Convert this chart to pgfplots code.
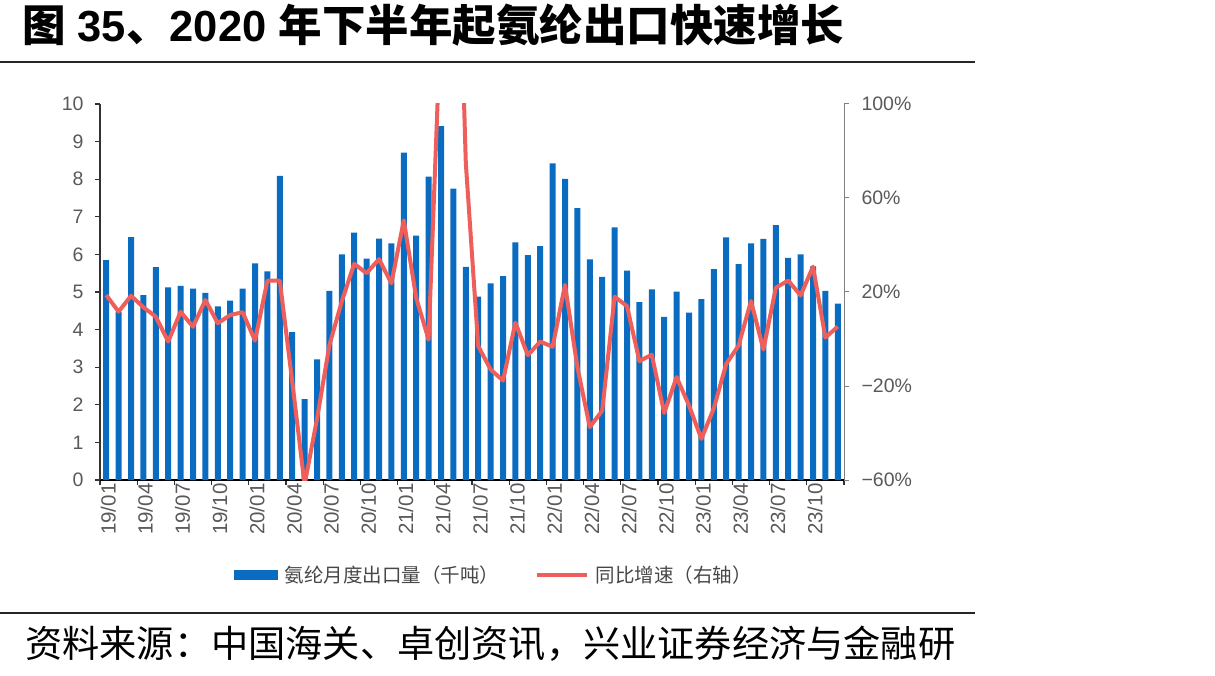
\documentclass[border=0pt]{standalone}
\usepackage{pgfplots}
\pgfplotsset{compat=1.18}
\usepackage{pgfplotstable}
\usepackage{fontspec}
\setmainfont{Liberation Sans}
\newfontfamily\cjk{Noto Sans CJK SC}

\definecolor{barblue}{HTML}{0A6CC0}
\definecolor{linered}{HTML}{EE5F5B}
\definecolor{ticktext}{HTML}{595959}

% Monthly spandex exports (thousand t) and year-on-year growth (%)
\pgfplotstableread{
m  vol   yoy
1  5.85  18.7
2  4.47  11.6
3  6.46  18.4
4  4.92  13.5
5  5.66  9.5
6  5.12  -1.1
7  5.16  11.6
8  5.09  5.2
9  4.98  16.6
10 4.62  6.7
11 4.77  10.2
12 5.09  11.4
13 5.76  -0.7
14 5.55  24.8
15 8.09  24.8
16 3.93  -18.0
17 2.15  -62.0
18 3.21  -34.0
19 5.03  -2.6
20 6.00  16.0
21 6.58  32.0
22 5.89  28.0
23 6.42  34.0
24 6.29  23.7
25 8.71  50.5
26 6.50  17.5
27 8.07  -0.3
28 9.41  139.0
29 7.75  255.0
30 5.67  75.0
31 4.88  -3.0
32 5.23  -13.0
33 5.42  -17.7
34 6.32  7.0
35 5.98  -6.9
36 6.22  -1.1
37 8.42  -3.3
38 8.01  23.0
39 7.23  -12.0
40 5.87  -37.5
41 5.40  -30.5
42 6.72  18.0
43 5.57  14.0
44 4.73  -9.4
45 5.07  -6.7
46 4.34  -31.5
47 5.01  -16.2
48 4.45  -28.3
49 4.81  -42.5
50 5.61  -29.5
51 6.45  -10.6
52 5.74  -2.8
53 6.29  16.2
54 6.41  -4.5
55 6.78  21.8
56 5.91  24.9
57 6.00  18.5
58 5.68  30.8
59 5.03  0.6
60 4.69  5.3
}\exportdata

\pgfplotsset{
  common/.style={
    at={(100pt,195pt)}, anchor=south west,
    scale only axis, width=744pt, height=376pt,
    xmin=0.5, xmax=60.5,
    tick align=outside, major tick length=5pt,
  }
}

\begin{document}
\begin{tikzpicture}[x=1pt,y=1pt]
\path[use as bounding box] (0,0) rectangle (1215,675);

% title, rules and source line
\node[anchor=base west, inner sep=0pt] at (22,633)
  {\fontsize{43.5}{50}\selectfont\bfseries{\cjk 图} 35{\cjk 、}2020 {\cjk 年下半年起氨纶出口快速增长}};
\draw[line width=2pt, black!85] (0,613) -- (975,613);
\draw[line width=2pt, black!85] (0,62) -- (975,62);
\node[anchor=base west, inner sep=0pt] at (25,18)
  {\fontsize{37.2}{44}\selectfont\cjk 资料来源：中国海关、卓创资讯，兴业证券经济与金融研};

% left axis: monthly volume
\begin{axis}[common,
  ymin=0, ymax=10,
  axis x line*=bottom, axis y line*=left,
  x axis line style={-, line width=1.6pt, black},
  y axis line style={-, line width=1.4pt, black!80},
  tick style={line width=1.2pt, black!80},
  ytick={0,1,...,10},
  yticklabels={0,1,2,3,4,5,6,7,8,9,10},
  yticklabel style={font=\fontsize{19.5}{22}\selectfont, text=ticktext, xshift=-8pt},
  xtick={0.5,3.5,...,60.5},
  xticklabels={},
  extra x ticks={1,4,...,58},
  extra x tick labels={19/01,19/04,19/07,19/10,20/01,20/04,20/07,20/10,21/01,21/04,21/07,21/10,22/01,22/04,22/07,22/10,23/01,23/04,23/07,23/10},
  extra x tick style={major tick length=0pt},
  xticklabel style={rotate=90, anchor=east, font=\fontsize{20.5}{22}\selectfont, text=ticktext, yshift=-2pt},
]
\addplot[ybar, bar width=6pt, fill=barblue, draw=none] table[x=m, y=vol] {\exportdata};
\end{axis}

% right axis: year-on-year growth
\begin{axis}[common,
  ymin=-60, ymax=100,
  axis y line*=right, axis x line=none,
  y axis line style={-, line width=1pt, black!50},
  tick style={line width=1pt, black!50},
  ytick={-60,-20,20,60,100},
  yticklabels={−60\%,−20\%,20\%,60\%,100\%},
  yticklabel style={font=\fontsize{19.5}{22}\selectfont, text=ticktext, xshift=9pt},
  legend style={at={(0.18,-0.2527)}, anchor=west, draw=none, fill=none,
    inner sep=0pt, legend columns=2,
    font=\fontsize{19.5}{22}\selectfont\cjk, text=black!72,
    /tikz/every odd column/.append style={column sep=5pt},
    /tikz/every even column/.append style={column sep=34pt}},
]
\addlegendimage{legend image code/.code={\fill[barblue] (0pt,-4.5pt) rectangle (43pt,4.5pt);}}
\addlegendentry{氨纶月度出口量（千吨）}
\addplot[linered, line width=4pt, line join=round,
  legend image code/.code={\draw[linered, line width=3.5pt] (0pt,0pt) -- (50pt,0pt);}]
  table[x=m, y=yoy] {\exportdata};
\addlegendentry{同比增速（右轴）}
\end{axis}
\end{tikzpicture}
\end{document}
